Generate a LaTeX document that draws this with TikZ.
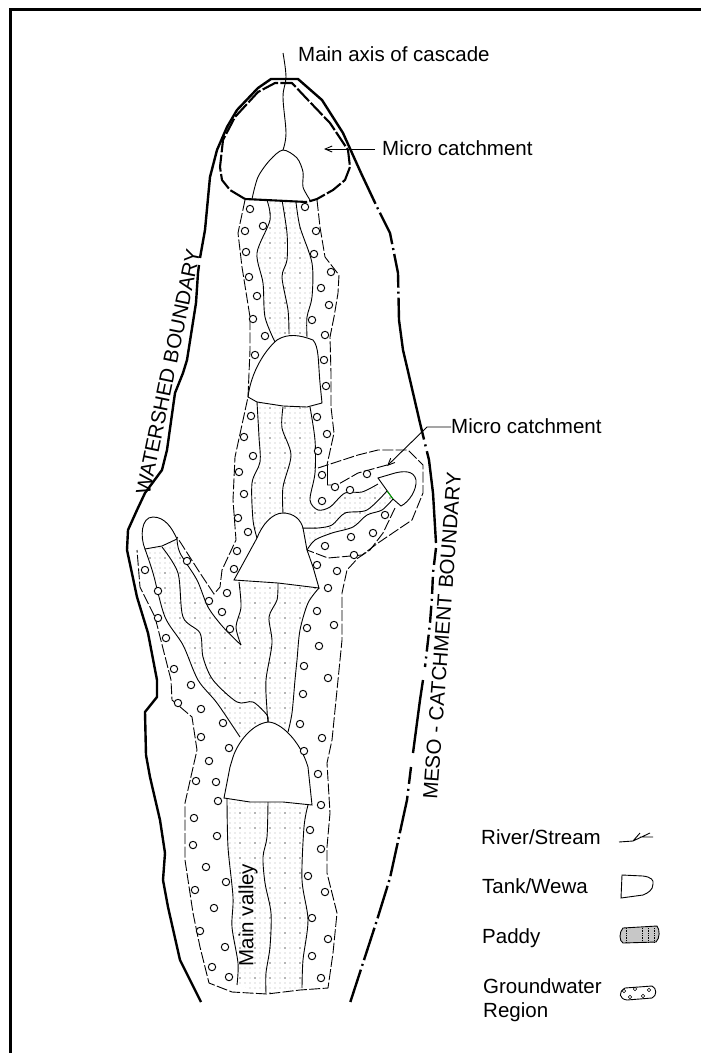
\documentclass[tikz,border=0pt]{standalone}
\usepackage{fontspec}
\setmainfont{Liberation Sans}
\usepackage{xcolor}
\usepackage{tikz}
\usetikzlibrary{arrows.meta,patterns.meta}

\tikzset{
  label text/.style={font=\fontsize{20.5}{23}\selectfont,inner sep=0pt},
  boundary/.style={line width=2.4pt,line join=round},
  boundary gap/.style={boundary,dash pattern=on 34pt off 4pt on 2pt off 4pt},
  boundary short/.style={boundary,dash pattern=on 17pt off 5pt on 2pt off 5pt},
  catchment/.style={line width=2.1pt,line join=round,dash pattern=on 17pt off 2.4pt},
  edge/.style={line width=0.9pt},
  region/.style={line width=0.9pt,dash pattern=on 11pt off 2.4pt},
  well/.style={line width=0.95pt,fill=white},
  paddy/.style={pattern={Dots[distance=5pt,radius=.6pt]},pattern color=black!32,
    postaction={pattern={Dots[distance=15pt,radius=.55pt]},pattern color=black}}
}

\begin{document}
\begin{tikzpicture}[x=1pt,y=-1pt,>={Straight Barb[length=7pt,width=6pt]}]
  \useasboundingbox (0,0) rectangle (701,1053);

  % frame
  \draw[line width=2.6pt] (10.5,1053) -- (10.5,9.5) -- (701,9.5);

  % paddy areas
  \path[paddy] (267,200) -- (270,220) -- (257,253) -- (263,283) -- (265,317) -- (275,342)
    -- (290,335) -- (307,337) -- (307,317) -- (312,297) -- (312,263) -- (300,227) -- (296,202) -- cycle;
  \path[paddy] (257,402) -- (259,437) -- (260,462) -- (252,483) -- (253,520) -- (257,538)
    -- (267,522) -- (283,513) -- (297,518) -- (303,528) -- (307,550) -- (315,540) -- (332,533)
    -- (353,527) -- (367,515) -- (382,510) -- (393,499) -- (378,484) -- (362,492) -- (345,493)
    -- (330,507) -- (318,510) -- (310,500) -- (315,473) -- (315,440) -- (310,407) -- cycle;
  \path[paddy] (145,549) -- (153,573) -- (165,617) -- (183,645) -- (198,680) -- (217,703)
    -- (240,737) -- (253,727) -- (268,722) -- (288,732) -- (292,713) -- (295,680) -- (297,660)
    -- (300,630) -- (308,603) -- (319,588) -- (239,582) -- (241,607) -- (236,627) -- (241,645)
    -- (223,627) -- (208,607) -- (197,580) -- (180,553) -- (177,539) -- (162,546) -- cycle;
  \path[paddy] (227,799) -- (228,847) -- (233,897) -- (232,927) -- (238,963) -- (237,985)
    -- (266,994) -- (302,988) -- (303,960) -- (308,920) -- (302,880) -- (304,827) -- (308,805) -- cycle;

  % watershed boundary
  \draw[boundary] (201,1002) -- (180,960) -- (168,907) -- (163,880) -- (165,853) -- (160,820) -- (150,777)
    -- (146,755) -- (145,712) -- (157,697) -- (157,680) -- (148,633) -- (137,597) -- (127,550) -- (128,530)
    -- (137,510) -- (145,493) -- (162,470) -- (167,450) -- (175,393) -- (183,373) -- (187,360) -- (196,303)
    -- (198,273) -- (199,265);
  \draw[boundary] (200,258) -- (205,230) -- (210,177) -- (217,150) -- (227,127) -- (237,110) -- (258,88) -- (271,79)
    -- (298,79) -- (322,100) -- (343,133) -- (361,173);
  \draw[boundary gap] (361,173) -- (377,207) -- (390,233) -- (398,273) -- (399,320);
  \draw[boundary] (399,320) -- (403,350) -- (407,367) -- (420,423);
  \draw[boundary short] (420,423) -- (429,460);
  \draw[boundary] (429,460) -- (433,493) -- (436,543);
  \draw[boundary short] (436,548) -- (433,573) -- (432,597) -- (430,623) -- (425,667);
  \draw[boundary] (423,680) -- (420,700) -- (413,753);
  \draw[boundary short] (411,767) -- (407,800);
  \draw[boundary gap] (407,800) -- (390,878) -- (377,920) -- (350,1003);

  % micro catchment at the head
  \draw[catchment] (245,199) -- (230,190) -- (222,180) -- (220,167) -- (223,140) -- (235,117)
    -- (258,92) -- (275,83) -- (292,83) -- (308,100) -- (330,123) -- (348,150) -- (350,167)
    -- (345,180) -- (333,190) -- (317,199) -- (307,202);
  \draw[line width=2.1pt] (245,199) -- (307,202);

  % main axis
  \draw[edge] plot[smooth,tension=.6] coordinates {(283,53) (286,77) (283,97) (286,133) (283,150)};

  % tanks
  \draw[edge] plot[smooth,tension=.5] coordinates {(252,199) (258,177) (270,160) (283,150) (297,158) (303,172) (303,187) (310,200)};
  \draw[edge,fill=white] (248,397) .. controls (251,372) and (265,350) .. (277,340)
    .. controls (288,333) and (300,335) .. (313,340) .. controls (319,347) and (318,360) .. (320,383)
    -- (322,403) -- (307,407) -- (283,406) -- (257,402) -- cycle;
  \draw[edge,fill=white] (234,580) -- (257,538) .. controls (262,525) and (272,513) .. (283,513)
    .. controls (294,513) and (301,520) .. (303,528) -- (307,550) -- (313,567) -- (319,588)
    -- (278,583) -- cycle;
  \draw[edge,fill=white] (224,798) -- (230,767) -- (233,757) .. controls (238,742) and (252,724) .. (268,722)
    .. controls (280,722) and (300,740) .. (308,767) -- (312,805) -- (283,802) -- (250,802) -- cycle;
  \draw[edge,fill=white] (145,549) .. controls (140,537) and (141,517) .. (153,517)
    .. controls (165,517) and (172,528) .. (177,539) -- (162,546) -- cycle;
  \draw[edge,fill=white] (378,478) -- (395,473) .. controls (403,471) and (414,470) .. (416,480)
    .. controls (417,490) and (409,502) .. (401,506) -- (393,499) -- cycle;
  \draw[edge,green!70!black] (387,491) -- (393,499);

  % paddy edges, stream in the middle
  \draw[edge] plot[smooth,tension=.5] coordinates {(267,200) (270,220) (257,253) (263,283) (265,317) (275,342)};
  \draw[edge] plot[smooth,tension=.5] coordinates {(282,200) (287,233) (287,260) (282,277) (288,310) (289,334)};
  \draw[edge] plot[smooth,tension=.5] coordinates {(296,202) (300,227) (312,263) (312,297) (307,317) (307,337)};
  \draw[edge] plot[smooth,tension=.5] coordinates {(257,402) (259,437) (260,462) (252,483) (253,520) (257,538)};
  \draw[edge] plot[smooth,tension=.5] coordinates {(283,407) (282,428) (291,455) (283,487) (283,513)};
  \draw[edge] plot[smooth,tension=.5] coordinates {(310,407) (315,440) (315,473) (310,500) (318,510) (330,507) (345,493) (362,492) (378,484)};
  \draw[edge] plot[smooth,tension=.5] coordinates {(302,528) (318,528) (332,525) (345,513) (367,510) (387,491)};
  \draw[edge] plot[smooth,tension=.5] coordinates {(307,550) (315,540) (332,533) (353,527) (367,515) (382,510) (393,499)};
  \draw[edge] plot[smooth,tension=.5] coordinates {(239,582) (241,607) (236,627) (241,645)};
  \draw[edge] plot[smooth,tension=.5] coordinates {(241,645) (223,627) (208,607) (197,580) (180,553) (177,539)};
  \draw[edge] plot[smooth,tension=.5] coordinates {(278,583) (277,600) (269,617) (272,643) (266,680) (267,710) (268,722)};
  \draw[edge] plot[smooth,tension=.5] coordinates {(319,588) (308,603) (300,630) (297,660) (295,680) (292,713) (288,732)};
  \draw[edge] plot[smooth,tension=.5] coordinates {(145,549) (153,573) (165,617) (183,645) (198,680) (217,703) (240,737)};
  \draw[edge] plot[smooth,tension=.5] coordinates {(162,547) (178,573) (183,617) (200,633) (203,657) (213,680) (237,702) (253,702) (267,715) (268,722)};
  \draw[edge] plot[smooth,tension=.5] coordinates {(227,799) (228,847) (233,897) (232,927) (238,963) (237,985)};
  \draw[edge] plot[smooth,tension=.5] coordinates {(268,802) (267,837) (263,857) (265,883) (271,913) (270,947) (266,973) (266,993)};
  \draw[edge] plot[smooth,tension=.5] coordinates {(308,805) (304,827) (302,880) (308,920) (303,960) (302,988)};

  % groundwater region
  \draw[region] (245,200) -- (238,233) -- (242,267) -- (250,317) -- (250,350) -- (248,397) -- (235,457)
    -- (233,500) -- (236,540) -- (222,570) -- (220,587) -- (214,594) -- (200,573) -- (177,537);
  \draw[region] (317,200) -- (320,227) -- (325,257) -- (339,275) -- (338,293) -- (334,317) -- (330,337)
    -- (331,373) -- (331,407) -- (334,433) -- (327,465);
  \draw[edge] (327,465) -- (327,485);
  \draw[region] (327,485) -- (337,485) -- (358,473) -- (387,465);
  \draw[region] (318,468) -- (358,455) -- (378,450) -- (408,450) -- (423,465) -- (423,493) -- (412,520)
    -- (378,543) -- (362,555) -- (328,558) -- (307,550);
  \draw[region] (395,508) -- (383,533) -- (370,550) -- (358,558) -- (347,570) -- (342,593) -- (342,640)
    -- (338,680) -- (332,740) -- (327,763) -- (330,813) -- (327,847) -- (327,873) -- (337,913) -- (333,953)
    -- (328,988) -- (300,990) -- (267,994) -- (232,992) -- (209,983) -- (200,947) -- (193,913) -- (185,860)
    -- (185,803) -- (197,750) -- (192,717) -- (172,700) -- (171,680) -- (155,617) -- (140,587) -- (137,550);

  % wells
  \foreach \x/\y in {250/209,263/226,245/231,246/252,249/277,257/296,253/319,265/336,305/207,316/231,314/254,
    331/272,321/288,329/305,312/320,325/335,255/355,324/360,326/386,251/416,317/417,327/434,244/437,253/456,
    318/451,239/472,322/475,244/494,335/487,367/474,350/490,322/501,238/518,248/532,385/515,373/533,351/537,
    325/546,354/555,237/551,234/569,317/565,337/571,328/588,187/561,145/570,227/593,209/601,158/591,222/612,
    317/611,158/618,230/629,307/628,334/625,166/638,319/646,304/666,174/669,328/678,191/685,303/694,178/703,
    201/709,223/723,300/724,201/737,322/738,229/748,304/751,209/761,318/774,196/781,216/782,218/801,321/805,
    194/818,310/830,217/836,193/845,321/849,206/867,308/876,226/882,195/890,325/892,214/908,312/918,200/931,
    328/939,225/947,312/956,212/967,229/977,321/978}
    \draw[well] (\x,\y) circle (3.7pt);

  % labels
  \node[label text,anchor=base west] (axislabel) at (298,61) {Main axis of cascade};
  \node[label text,anchor=base west] (microlabel) at (382,155) {Micro catchment};
  \node[label text,anchor=base west] (branchlabel) at (451,433) {Micro catchment};
  \node[label text,rotate=78.3] (watershed) at (168,372) {WATERSHED BOUNDARY};
  \node[label text,rotate=85.8] (meso) at (442,636) {MESO - CATCHMENT BOUNDARY};
  \node[label text,rotate=90] (valley) at (248,915) {Main valley};

  \coordinate (microtip) at (324,149);
  \coordinate (branchbend) at (427,427);
  \coordinate (branchtip) at (387,466);
  \draw[edge,->] (microlabel.west |- microtip) ++(-7,0) -- (microtip);
  \draw[edge,->] (branchlabel.west |- branchbend) -- (branchbend) -- (branchtip);

  % legend
  \node[label text,anchor=base west] (riverkey) at (481,844) {River/Stream};
  \node[label text,anchor=base west] (tankkey) at (482,893) {Tank/Wewa};
  \node[label text,anchor=base west] (paddykey) at (482,943) {Paddy};
  \node[label text,anchor=base west,align=left] (waterkey) at (483,993) {Groundwater};
  \node[label text,anchor=base west] (waterkeyb) at (483,1017) {Region};

  \draw[edge] (619,842) -- (633,841) -- (640,833) (633,841) -- (650,833) (640,837) -- (653,837);
  \draw[edge] (622,875) -- (643,876) .. controls (651,877) and (654,880) .. (653,884)
    .. controls (653,890) and (648,893) .. (643,895) -- (621,898) -- cycle;
  \draw[edge,fill=black!22] (623,928) -- (657,926) .. controls (660,930) and (660,938) .. (656,942)
    -- (623,943) .. controls (619,941) and (619,932) .. (623,928) -- cycle;
  \foreach \x in {626,642,648,654}
    \draw[line width=0.7pt,densely dotted] (\x,928) -- (\x,942);
  \draw[edge] (625,988) -- (652,986) .. controls (657,988) and (657,996) .. (652,998)
    -- (627,1000) .. controls (619,999) and (618,992) .. (625,988) -- cycle;
  \foreach \x/\y in {624/991,635/989,649/990,630/997,643/996}
    \draw[line width=0.6pt] (\x,\y) circle (1.7pt);
\end{tikzpicture}
\end{document}
